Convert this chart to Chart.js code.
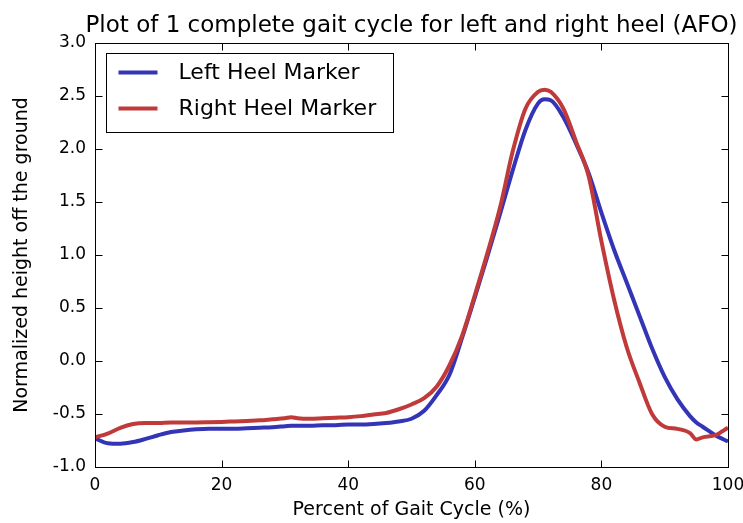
<!DOCTYPE html>
<html>
<head>
<meta charset="utf-8">
<style>
  html, body { margin: 0; padding: 0; background: #fff; }
  #wrap { width: 743px; height: 523px; }
</style>
</head>
<body>
<div id="wrap"><canvas id="gaitChart" width="743" height="523"></canvas></div>
<script src="https://cdn.jsdelivr.net/npm/chart.js@4.4.1/dist/chart.umd.min.js"></script>
<script>
    // percent of gait cycle where each sample was taken
    const percent = [0, 2, 4, 6, 8, 10, 12, 14, 16, 18, 20, 22, 24, 26, 28, 30, 31, 32, 34, 36, 38, 40,
        42, 44, 46, 48, 50, 52, 54, 56, 58, 60, 62, 64, 66, 68, 70, 71, 72, 74, 76, 78, 80, 82, 84, 86,
        88, 90, 92, 94, 95, 96, 98, 100]

    // normalized heel heights (left / right)
    const leftHeel = [-0.73, -0.775, -0.78, -0.765, -0.735, -0.70, -0.67, -0.655, -0.645, -0.64, -0.64,
        -0.64, -0.635, -0.63, -0.625, -0.615, -0.61, -0.61, -0.61, -0.605, -0.605, -0.60,
        -0.60, -0.595, -0.585, -0.57, -0.545, -0.47, -0.32, -0.13, 0.22, 0.60, 0.99, 1.39, 1.80, 2.18,
        2.43, 2.47, 2.46, 2.30, 2.05, 1.77, 1.40, 1.05, 0.74, 0.43, 0.12, -0.15, -0.36, -0.52, -0.58,
        -0.62, -0.70, -0.76]
    const rightHeel = [-0.72, -0.685, -0.63, -0.595, -0.585, -0.585, -0.58, -0.58, -0.58, -0.578, -0.575,
        -0.57, -0.565, -0.56, -0.55, -0.54, -0.53, -0.54, -0.545, -0.54, -0.535, -0.53,
        -0.52, -0.505, -0.49, -0.455, -0.41, -0.35, -0.24, -0.04, 0.24, 0.62, 1.02, 1.45, 1.98, 2.38,
        2.54, 2.56, 2.54, 2.38, 2.07, 1.74, 1.13, 0.58, 0.13, -0.20, -0.50, -0.62, -0.64, -0.68, -0.74,
        -0.72, -0.70, -0.63]

    const seriesNames = ['Left Heel Marker', 'Right Heel Marker']
    const seriesColors = ['#3434b6', '#c03a3a']
    const titleText = 'Plot of 1 complete gait cycle for left and right heel (AFO)'
    const xTicks = [0, 20, 40, 60, 80, 100]
    const yTicks = [-1.0, -0.5, 0.0, 0.5, 1.0, 1.5, 2.0, 2.5, 3.0]

    const FONT = "'DejaVu Sans', sans-serif"

    // axes frame, inward ticks on all four sides, title and boxed legend
    const framePlugin = {
        id: 'frame',
        afterDatasetsDraw(chart) {
            const { ctx, chartArea: a, scales } = chart
            ctx.save()
            ctx.strokeStyle = '#000'
            ctx.lineWidth = 1
            const L = Math.round(a.left) + 0.5, R = Math.round(a.right) + 0.5
            const T = Math.round(a.top) + 0.5, B = Math.round(a.bottom) + 0.5
            ctx.beginPath()
            xTicks.forEach(v => {
                const px = Math.round(scales.x.getPixelForValue(v)) + 0.5
                ctx.moveTo(px, B); ctx.lineTo(px, B - 7)
                ctx.moveTo(px, T); ctx.lineTo(px, T + 7)
            })
            yTicks.forEach(v => {
                const py = Math.round(scales.y.getPixelForValue(v)) + 0.5
                ctx.moveTo(L, py); ctx.lineTo(L + 7, py)
                ctx.moveTo(R, py); ctx.lineTo(R - 7, py)
            })
            ctx.stroke()
            ctx.strokeRect(L, T, R - L, B - T)

            // title
            ctx.fillStyle = '#000'
            ctx.font = '23px ' + FONT
            ctx.textAlign = 'center'
            ctx.textBaseline = 'alphabetic'
            ctx.fillText(titleText, (a.left + a.right) / 2, 32)

            // legend
            const lx = Math.round(a.left) + 11.5, ly = Math.round(a.top) + 10.5
            ctx.fillStyle = '#fff'
            ctx.fillRect(lx, ly, 287, 79)
            ctx.strokeRect(lx, ly, 287, 79)
            ctx.font = '22px ' + FONT
            ctx.textAlign = 'left'
            ctx.textBaseline = 'middle'
            chart.data.datasets.forEach((ds, i) => {
                const y = ly + 19 + i * 36
                ctx.strokeStyle = ds.borderColor
                ctx.lineWidth = 4
                ctx.beginPath()
                ctx.moveTo(lx + 12, y); ctx.lineTo(lx + 51, y)
                ctx.stroke()
                ctx.fillStyle = '#000'
                ctx.fillText(ds.label, lx + 72, y + 1)
            })
            ctx.restore()
        }
    }

    const ctx = document.getElementById('gaitChart')
    const gaitChart = new Chart(ctx, {
        type: 'line',
        data: {
            datasets: [{
                label: seriesNames[0],
                data: percent.map((x, i) => ({ x: x, y: leftHeel[i] })),
                borderColor: seriesColors[0],
                borderWidth: 4,
                pointRadius: 0,
                cubicInterpolationMode: 'monotone',
                order: 1,
                clip: 0
            }, {
                label: seriesNames[1],
                data: percent.map((x, i) => ({ x: x, y: rightHeel[i] })),
                borderColor: seriesColors[1],
                borderWidth: 4,
                pointRadius: 0,
                cubicInterpolationMode: 'monotone',
                order: 0,
                clip: 0
            }]
        },
        options: {
            responsive: false,
            animation: false,
            layout: { padding: { top: 43, right: 15, left: 0, bottom: 0 } },
            plugins: {
                legend: { display: false },
                tooltip: { enabled: false },
                title: { display: false }
            },
            scales: {
                x: {
                    type: 'linear',
                    min: 0,
                    max: 100,
                    afterBuildTicks: s => { s.ticks = xTicks.map(v => ({ value: v })) },
                    afterFit: s => { s.height = 56; s.paddingLeft = 0; s.paddingRight = 0 },
                    grid: { display: false, drawTicks: false },
                    border: { display: false },
                    ticks: { color: '#000', font: { family: FONT, size: 17 }, padding: 8 },
                    title: {
                        display: true,
                        text: 'Percent of Gait Cycle (%)',
                        color: '#000',
                        font: { family: FONT, size: 19 },
                        padding: { top: 3, bottom: 2 }
                    }
                },
                y: {
                    min: -1,
                    max: 3,
                    afterBuildTicks: s => { s.ticks = yTicks.map(v => ({ value: v })) },
                    afterFit: s => { s.width = 95; s.paddingTop = 0; s.paddingBottom = 0 },
                    grid: { display: false, drawTicks: false },
                    border: { display: false },
                    ticks: {
                        color: '#000',
                        font: { family: FONT, size: 17 },
                        padding: 9,
                        callback: v => v.toFixed(1)
                    },
                    title: {
                        display: true,
                        text: 'Normalized height off the ground',
                        color: '#000',
                        font: { family: FONT, size: 19 },
                        padding: { top: 11, bottom: 10 }
                    }
                }
            }
        },
        plugins: [framePlugin]
    })
</script>
</body>
</html>
